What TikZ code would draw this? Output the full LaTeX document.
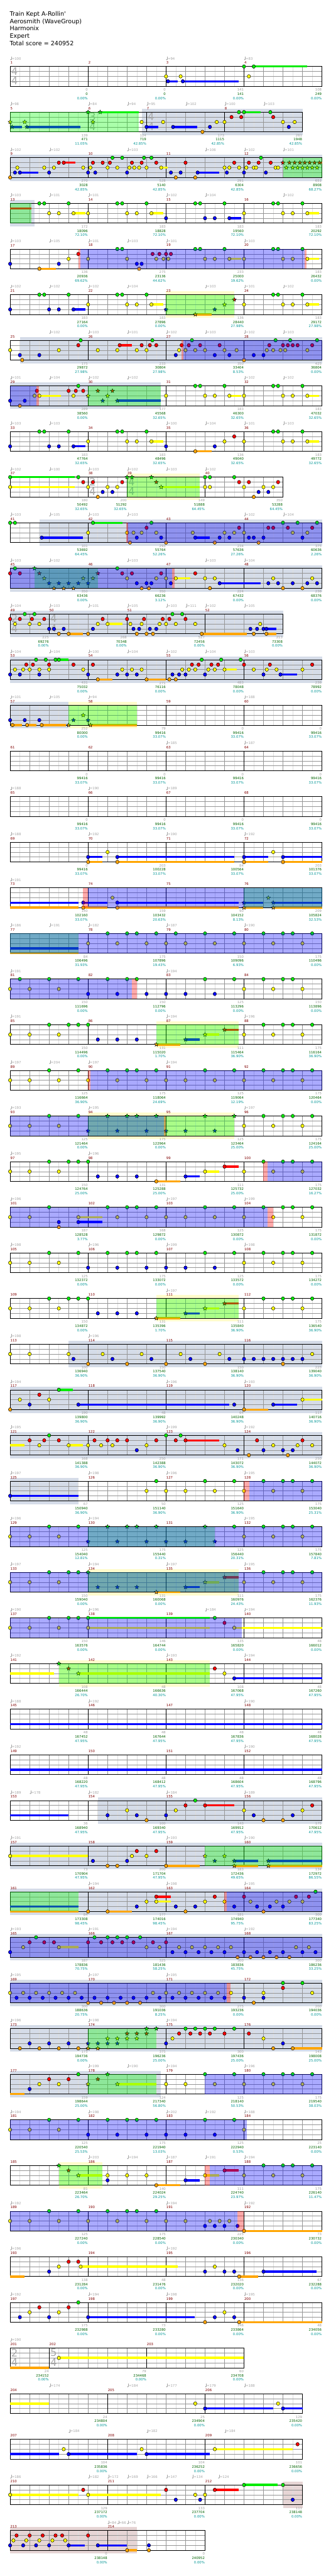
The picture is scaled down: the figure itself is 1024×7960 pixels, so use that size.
\documentclass[tikz,border=0pt]{standalone}
\usepackage{fontspec}
\setmainfont{DejaVu Sans}
\newcounter{tpn}\newcounter{tsn}
\definecolor{c0}{RGB}{0,235,0}
\definecolor{c1}{RGB}{255,0,0}
\definecolor{c2}{RGB}{255,255,0}
\definecolor{c3}{RGB}{0,0,255}
\definecolor{c4}{RGB}{255,165,0}
\definecolor{gridl}{RGB}{222,222,222}
\definecolor{gridd}{RGB}{150,150,150}
\definecolor{solobg}{RGB}{213,220,232}
\definecolor{codabg}{RGB}{230,213,213}
\definecolor{mred}{RGB}{128,0,0}
\definecolor{sgray}{RGB}{160,160,160}
\definecolor{sgreen}{RGB}{0,100,0}
\definecolor{steal}{RGB}{0,150,150}
\definecolor{tgray}{RGB}{165,165,165}
\definecolor{tsgray}{RGB}{170,170,170}
\newcommand\lab{\fontsize{5.2}{6}\selectfont}
\newcommand\ttlf{\fontsize{9.3}{11}\selectfont}
\newcommand\tsf{\fontsize{16}{18}\selectfont}
\tikzset{
  nt/.style={draw=black,line width=0.45pt},
  hl/.style={line width=3.4pt},
  hbl/.style={draw=gridl,line width=0.5pt},
  bl/.style={draw=gridd,line width=0.5pt},
  brd/.style={draw=black,line width=0.7pt},
  barl/.style={draw=black,line width=0.6pt},
  mnum/.style={font=\lab,text=mred,anchor=west,inner sep=0pt},
  scg/.style={font=\lab,text=sgray,anchor=east,inner sep=0pt},
  sct/.style={font=\lab,text=sgreen,anchor=east,inner sep=0pt},
  scp/.style={font=\lab,text=steal,anchor=east,inner sep=0pt},
  tmp/.style={font=\lab,text=tgray,anchor=west,inner sep=0pt},
  tsg/.style={font=\tsf,text=tsgray,anchor=west,inner sep=0pt},
  ttl/.style={font=\ttlf,anchor=base west,inner sep=0pt},
  solo/.style={fill=solobg},
  pyl/.style={fill=yellow,opacity=0.2},
  coda/.style={fill=codabg},
  ovB/.style={fill=blue,opacity=0.333},
  ovG/.style={fill=green,opacity=0.333},
  ovP/.style={fill=red,opacity=0.333}
}
% one row of the chart: \rowy is the top line of the staff
\newcommand\rw[1]{\pgfmathsetmacro\rowy{205.5+141*#1}}
\newcommand\grid[1]{%
  \pgfmathtruncatemacro\nh{2*#1-1}\pgfmathtruncatemacro\nb{#1-1}%
  \foreach \i in {1,3,...,\nh} \draw[hbl] ({31.3+30.15*\i},\rowy) -- ++(0,61);
  \foreach \i in {1,...,\nb} \draw[bl] ({31.3+60.3*\i},\rowy) -- ++(0,61);
  \foreach \l in {1,2,3} \draw[bl] (31.3,{\rowy+15.25*\l}) -- ({31.3+60.3*#1},{\rowy+15.25*\l});
  \draw[brd] (31.3,\rowy) rectangle ({31.3+60.3*#1},{\rowy+61});}
\newcommand\bgr[3]{\fill[#1] ({31.3+60.3*#2},{\rowy-10.3}) rectangle ({31.3+60.3*#3},{\rowy+71.3});}
\newcommand\ovl[3]{\fill[#1] ({31.3+60.3*#2},\rowy) rectangle ({31.3+60.3*#3},{\rowy+61});}
% measure: start beat, length, number, score, total, percent
\newcommand\ms[6]{%
  \ifdim#1pt>0pt\draw[barl] ({31.3+60.3*#1},\rowy) -- ++(0,61);\fi
  \node[mnum] (mnum-#3) at ({32+60.3*#1},{\rowy-11.5}) {#3};
  \node[scg] (msc-#3) at ({30.8+60.3*(#1+#2)},{\rowy+72}) {#4};
  \node[sct] (mtot-#3) at ({30.8+60.3*(#1+#2)},{\rowy+85}) {#5};
  \node[scp] (mpct-#3) at ({30.8+60.3*(#1+#2)},{\rowy+98}) {#6\%};}
\newcommand\four[2]{\foreach \va/\vb/\vc [count=\ci from 0] in {#2}{%
  \pgfmathtruncatemacro\mm{#1+\ci}\pgfmathsetmacro\st{4*\ci}\ms{\st}{4}{\mm}{\va}{\vb}{\vc}}}
\newcommand\hold[2]{\foreach \pa/\pb in {#2}{\draw[hl,draw=c#1] ({31.3+60.3*\pa},{\rowy+15.25*#1}) -- ({31.3+60.3*\pb},{\rowy+15.25*#1});}}
\newcommand\nts[2]{\foreach \bb in {#2}{\filldraw[nt,fill=c#1] ({31.3+60.3*\bb},{\rowy+15.25*#1}) ellipse (5.2 and 5.6);}}
\newcommand\sts[2]{\foreach \bb in {#2}{\filldraw[nt,fill=c#1,shift={({31.3+60.3*\bb},{\rowy+15.25*#1})}]
  plot[samples at={0,...,9},variable=\k] ({(6.5-3.6*mod(\k,2))*cos(90+36*\k)},{-(6.5-3.6*mod(\k,2))*sin(90+36*\k)}) -- cycle;}}
\newcommand\tps[1]{\foreach \bb/\vv in {#1}{%
  \fill[tgray] ({33.5+60.3*\bb},{\rowy-21.5}) ellipse (2.1 and 1.6);
  \draw[tgray,line width=0.5pt] ({35.4+60.3*\bb},{\rowy-21.5}) -- ++(0,-9.5);
  \stepcounter{tpn}\node[tmp] (tempo-\arabic{tpn}) at ({36.2+60.3*\bb},{\rowy-24.5}) {=\vv};}}
\newcommand\tsig[3]{\stepcounter{tsn}%
  \node[tsg] (tsa-\arabic{tsn}) at ({34.5+60.3*#1},{\rowy+14.5}) {#2};
  \node[tsg] (tsb-\arabic{tsn}) at ({34.5+60.3*#1},{\rowy+44.5}) {#3};}
\begin{document}
\begin{tikzpicture}[x=0.5pt,y=-0.5pt]
\useasboundingbox (0,0) rectangle (1024,7960);
\fill[white] (0,0) rectangle (1024,7960);
\node[ttl] (title) at (30,49.3) {Train Kept A-Rollin\textquotesingle};
\node[ttl] (artist) at (30,72) {Aerosmith (WaveGroup)};
\node[ttl] (charter) at (30,95) {Harmonix};
\node[ttl] (level) at (30,118.3) {Expert};
\node[ttl] (total) at (30,141) {Total score = 240952};

% rows 1-4
\rw{0}\grid{16}\tsig{0}{4}{4}
\four{1}{0/0/0.00,0/0/0.00,141/141/0.00,108/249/0.00}
\hold{0}{12.5/15.25}\hold{3}{8.1/8.6,8.86/11.74}
\nts{0}{12,12.5}\nts{2}{8,8.75,12.25}\nts{3}{8.1,8.86}
\tps{0/100,8/94,12/83}

\rw{1}\bgr{solo}{6.75}{15}\grid{15}\tsig{4}{3}{4}\tsig{7}{4}{4}
\ms{0}{4}{5}{139}{471}{11.05}\ms{4}{3}{6}{124}{719}{42.85}\ms{7}{4}{7}{173}{1115}{42.85}\ms{11}{4}{8}{261}{1948}{42.85}
\hold{3}{0.1/0.6,0.86/3.6,7/7.6,8.36/9.6}\hold{0}{4.62/6.6,12/12.85}
\sts{2}{0,0.75,4.25}\sts{3}{0.1,0.86}\sts{0}{4,4.62}
\nts{2}{6.75,7.85,10.6,11,14,14.6}\nts{3}{7,8.36,10.25,14.3}\nts{4}{9.87}\nts{1}{11.36,11.86,13.5}\nts{0}{11.74,12,13.35}
\ovl{ovG}{0}{6.6}
\tps{0/98,4/84,6/94,7/95,9/102,11/100,13/103}

\rw{2}\bgr{solo}{0}{16}\grid{16}
\four{9}{270/3028/42.85,528/5140/42.85,291/6304/42.85,651/8908/68.27}
\hold{3}{0.5/1.45,9.62/10.74}\hold{1}{2.75/3.36,15.87/16}\hold{2}{7.75/8.1}
\nts{4}{0,8.5,9.5}
\nts{3}{0.25,0.5,2,4,4.37,6,8.25,8.75,9.62,11.12,12,13.12}
\nts{2}{0.37,1.75,2.25,3.75,4.12,5,5.5,6.12,6.37,6.62,7,7.75,11,11.25,11.75,12.12,12.5,12.62,13.62,13.75}
\nts{1}{2.5,2.75,4.25,4.75,5.12,6.25,6.75,7.5,9,11.5,12.25,12.75,13.37}
\nts{0}{5.25,5.75,6.87,7.25,12.87}
\sts{1}{14,14.33,14.6,14.87,15.12,15.37,15.62,15.87}\sts{2}{14.17,14.5,14.75,15,15.25,15.5,15.75}
\ovl{ovG}{14}{16}
\tps{0/102,2/102,6/103,10/106,12/102,14/101}

\rw{3}\bgr{solo}{0}{1.24}\grid{16}
\four{13}{172/18096/72.10,183/18828/72.10,183/19560/72.10,183/20292/72.10}
\hold{1}{0/1.1}\hold{2}{3.25/3.86,7.25/7.85,15.25/15.85}\hold{3}{11.25/11.86}
\nts{0}{1.5,1.75,3,5.5,5.75,7,9.5,9.75,11,13.5,13.75,15}
\nts{2}{2,2.5,3.25,4,6,6.5,7.25,12,14,14.5,15.25}
\nts{3}{8,10,10.5,11.25}
\ovl{ovG}{0}{1.1}
\tps{0/103,2/101,4/101,8/102,10/104,14/102}

\rw{4}\grid{16}
\four{17}{136/20936/69.62,275/23136/44.62,233/25000/19.62,183/26432/0.00}
\hold{4}{1.5/2.36}\hold{2}{11.25/11.86,15.25/15.85}
\nts{3}{0,2.5,6.5,6.75}\nts{4}{1.5,6.62}
\nts{2}{3,4,6,7.5,7.87,8.12,10,10.5,11.25,12,14,14.5,15.25}
\nts{1}{3.5,7.31,7.66,8,8.25}
\nts{0}{5.5,5.75,9.5,9.75,11,13.5,13.75,15}
\ovl{ovB}{3.59}{15.11}\ovl{ovP}{3.5}{3.59}\ovl{ovP}{15.11}{15.22}
\tps{0/103,2/105,4/101,6/103,8/101,12/103}

\rw{5}\bgr{pyl}{8}{11.5}\grid{16}
\four{21}{183/27164/0.00,183/27896/0.00,136/28440/27.98,183/29172/27.98}
\hold{3}{3.25/3.86}\hold{2}{7.25/7.85,15.25/15.85}\hold{4}{9.5/10.35}
\nts{3}{0,2,2.5,3.25}\nts{0}{1.5,1.75,3,5.5,5.75,7,13.5,13.75,15}\nts{2}{4,6,6.5,7.25,12,14,14.5,15.25}
\sts{3}{8,10.5}\sts{4}{9.5}\sts{2}{11}\sts{1}{11.5}
\ovl{ovG}{8}{11.5}
\tps{0/102,2/102,4/102,6/104,10/103,12/101,14/102}

\rw{6}\bgr{solo}{0.5}{16}\grid{16}
\four{25}{175/29872/27.98,233/30804/27.98,350/33404/8.53,425/36804/0.00}
\hold{1}{5.62/6.25}
\nts{2}{0,2.5,4.5,5.5,6.5,7,8.67,9,9.5,10,11,11.62,13.17,13.5,13.87,14.12,15.25}
\nts{3}{0.5,1.5,8.5,10.5,11.25,12.5,13}
\nts{4}{0.62,12}
\nts{1}{3.5,5.62,6.75,7.17,7.5,8.8,9.17,9.75,10.75,13.3,14,14.25,14.5,14.75,15.5}
\nts{0}{3.62,7.3,9.33,13.62,14.37,15.75}
\ovl{ovB}{8.88}{16}\ovl{ovP}{8.8}{8.88}
\tps{2/102,4/103,6/101,8/102,10/103,12/102,14/103}

\rw{7}\bgr{solo}{0}{7.74}\grid{16}
\four{29}{289/38560/0.00,177/45568/32.65,183/46300/32.65,183/47032/32.65}
\hold{2}{1.5/2.6,11.25/11.86,15.25/15.85}\hold{3}{5.5/7.74}
\nts{3}{0,0.75}\nts{4}{0.5}\nts{2}{1.25,1.5,3.25,8,10,10.5,11.25,12,14,14.5,15.25}
\nts{1}{1.37,3,3.37,3.75}\nts{0}{3.5,9.5,9.75,11,13.5,13.75,15}
\sts{2}{4,5}\sts{1}{4.5,5.25}\sts{3}{4.75,5.5}
\ovl{ovB}{0}{1.36}\ovl{ovP}{1.36}{1.48}\ovl{ovG}{4}{7.74}
\tps{0/101,2/104,4/102,6/102,12/102,14/102}

\rw{8}\grid{16}
\four{33}{183/47764/32.65,183/48496/32.65,136/49040/32.65,183/49772/32.65}
\hold{3}{3.25/3.86}\hold{2}{7.25/7.85,15.25/15.85}\hold{4}{9.5/10.35}
\nts{3}{0,2,2.5,3.25,8,10.5}\nts{0}{1.5,1.75,3,5.5,5.75,7,13.5,13.75,15}
\nts{2}{4,6,6.5,7.25,11,12,14,14.5,15.25}\nts{4}{9.5}\nts{1}{11.5}
\tps{0/103,2/103,8/100,10/104,12/101,14/103}

\rw{9}\bgr{pyl}{6}{9.74}\grid{14}\tsig{4}{2}{4}\tsig{6}{4}{4}
\ms{0}{4}{37}{180}{50492}{32.65}\ms{4}{2}{38}{200}{51292}{32.65}\ms{6}{4}{39}{149}{51888}{64.45}\ms{10}{4}{40}{350}{53288}{64.45}
\hold{0}{0/3.33}\hold{2}{0/3.33,7.75/9.74}
\nts{0}{0,3.5,10,10.25,11.5}\nts{2}{0,4,5,5.5,10,10.25,12,13,13.5}
\nts{1}{3.75,4.25,5.75,11.75,12.25,13.75}\nts{4}{4.5,12.5}\nts{3}{4.75,5.25,12.75,13.25}
\sts{0}{6,6.25,7.25}\sts{1}{7.5}\sts{2}{7.75}
\ovl{ovG}{6}{9.74}
\tps{0/102,2/100,4/103,6/102,8/103,10/102}

\rw{10}\bgr{solo}{1.5}{16}\grid{16}
\four{41}{101/53692/64.45,293/55764/52.26,234/57636/27.26,375/60636/2.26}
\hold{3}{1.62/3.74,9.5/10.24}\hold{0}{4.25/5.75}
\nts{0}{0,0.25,4.25,7.25,14,14.75,15.75}
\nts{3}{1.62,6.5,7.75,9.5,10.75,11.25,12.25,12.5,13,15}
\nts{2}{4,6,6.33,6.75,7.5,9.37,11,11.5,12,14.5,15.25}
\nts{4}{6.15,8,10.5,12.75}
\nts{1}{7,11.75,13.25,13.5,14.25,15.5}
\ovl{ovB}{6.03}{16}\ovl{ovP}{5.97}{6.05}
\tps{0/103,2/105,4/103,6/103,12/102,14/104}

\rw{11}\bgr{solo}{0}{16}\grid{16}
\four{45}{350/63436/0.00,350/66236/3.12,224/67432/0.00,236/68376/0.00}
\hold{2}{8.5/9.24}\hold{3}{10.75/12.85}
\nts{1}{0,0.5,5.75,6.25,7.75,9.5}\nts{0}{0.25,5.5}
\nts{2}{6,7.5,8,8.5,10,10.5,13.5,15.5}
\nts{3}{6.5,7,7.25,8.25,10.75,13.25,13.75,14.5,15.25,15.75}
\nts{4}{6.75,7.12,10.25,14,15}
\sts{0}{1.25}\sts{1}{1.5,4.5}\sts{2}{1.75,3.75,4.25}\sts{3}{2,2.5,3,3.5,4}\sts{4}{2.25,2.75,3.25}
\ovl{ovG}{1.24}{4.5}\ovl{ovB}{0}{8.3}\ovl{ovP}{8.3}{8.45}
\tps{0/103,2/102,6/103,10/103,12/104}

\rw{12}\bgr{solo}{0}{14}\grid{14}\tsig{0}{2}{4}\tsig{2}{4}{4}
\ms{0}{2}{49}{225}{69276}{0.00}\ms{2}{4}{50}{268}{70348}{0.00}\ms{6}{4}{51}{527}{72456}{0.00}\ms{10}{4}{52}{213}{73308}{0.00}
\hold{4}{3/3.74,9.84/12.15,13.15/13.65}\hold{2}{5/5.75}\hold{3}{13.15/13.65}
\nts{1}{0,0.5,1.12,1.75,4.75,6,6.87,7.83,8.17,9}
\nts{2}{0.25,1,1.5,4.5,5,6.17,6.75,7.67,8,8.5,9.5,12.83}
\nts{0}{0.75,1.25,8.33,8.83}
\nts{3}{2,2.25,2.75,4.25,6.33,6.62,7.17,7.5,12.33,12.67,13,13.15}
\nts{4}{2.5,3,4,6.5,7,7.33,9.83,12.5,13.15}
\tps{0/104,2/103,4/101,6/105,8/103,9/111,10/102,12/105}

\rw{13}\bgr{solo}{0}{16}\grid{16}
\four{53}{431/75032/0.00,271/76116/0.00,483/78048/0.00,236/78992/0.00}
\hold{0}{2.5/3}\hold{4}{4.5/5.25,7/8}\hold{2}{11/11.63}\hold{3}{13.87/14.74}
\nts{3}{0,0.5,1.5,4,5.5,6,6.5,8.33,8.67,9,10,13,13.87}
\nts{2}{0.25,0.67,1,1.5,2,3.75,5.75,6.25,6.75,8.83,9.17,9.5,10.17,10.5,11,12.5,13.17,13.67,15}
\nts{1}{0.83,1.17,2,3.25,4.25,9.33,9.67,10.33,10.67,12,13.33,15.5}
\nts{0}{1.33,1.83,2.33,2.5,9.83,10.83,11.83}
\nts{4}{4.5,7,8.17,8.5}
\tps{0/104,2/104,4/100,6/104,8/102,10/104,12/103}

\rw{14}\bgr{solo}{0}{3}\bgr{pyl}{3}{6.5}\grid{16}
\four{57}{252/80000/0.00,79/99416/33.07,0/99416/33.07,0/99416/33.07}
\hold{4}{0.12/0.6,0.87/1.35,1.62/2.85,4.12/6.5}
\nts{3}{0,0.75,1.5}\nts{4}{0.12,0.87,1.62}
\sts{4}{3,4.12}\sts{3}{3.25,4}\sts{2}{3.75}
\ovl{ovG}{3}{6.5}
\tps{0/101,2/105,4/94,12/188}

\rw{15}\grid{16}
\four{61}{0/99416/33.07,0/99416/33.07,0/99416/33.07,0/99416/33.07}
\tps{8/185,12/187}

\rw{16}\grid{16}
\four{65}{0/99416/33.07,0/99416/33.07,0/99416/33.07,0/99416/33.07}
\tps{0/188,4/190,8/189}

\rw{17}\grid{16}
\four{69}{0/99416/33.07,203/100228/33.07,84/100564/33.07,203/101376/33.07}
\hold{3}{4/4.74,5.5/11.5,12/13.24,14/16}\hold{4}{4/4.74,5.5/11.5,12/13.24,14/16}
\nts{3}{4,5.5,12,14}\nts{4}{4,5.5,12,14}\nts{2}{5,13.5}
\tps{0/188,4/192,8/190,12/192}

\rw{18}\grid{16}
\four{73}{140/102160/33.07,159/103432/20.63,90/104152/8.13,209/105824/32.53}
\hold{3}{0/3.5,3.75/5,5.5/11.74,12/13,13.5/16}\hold{4}{0/3.5,3.75/5,5.5/11.74,12/13,13.5/16}
\nts{3}{3.75,5.5}\nts{4}{3.75,5.5}\nts{2}{5.25}
\sts{3}{12,13.5}\sts{4}{12,13.5}\sts{2}{13.25}
\ovl{ovP}{3.75}{4}\ovl{ovG}{12}{16}\ovl{ovB}{4}{16}
\tps{0/191}

\rw{19}\grid{16}
\four{77}{84/106496/31.93,175/107896/19.43,150/109096/6.93,175/110496/0.00}
\hold{3}{0/3.5}\hold{4}{0/3.5}
\nts{2}{4,5.5,7,8,9,10.5,12,13.5,15}\nts{0}{5,6,6.5,7.5,8.5,10,11.5,13,14,14.5,15.5}
\ovl{ovG}{0}{3.5}\ovl{ovB}{0}{16}
\tps{0/186,2/191,4/182,8/187,12/190}

\rw{20}\grid{16}
\four{81}{150/111696/0.00,150/112796/0.00,125/113296/0.00,150/113896/0.00}
\nts{2}{0,1,2.5,12,13.5,15}\nts{0}{0.5,2,3.5,5,6,6.5,10,11.5,13,14,14.5}\nts{3}{4,5.5,7,8,9,10.5}
\ovl{ovB}{0}{6.25}\ovl{ovP}{6.25}{6.5}
\tps{0/191,8/194}

\rw{21}\bgr{pyl}{7.5}{11.74}\grid{16}
\four{85}{150/114496/0.00,131/115020/1.70,111/115464/36.90,175/116164/36.90}
\hold{4}{7.5/8.73}\hold{3}{9/9.73}\hold{2}{10/10.74}\hold{1}{11/11.74}
\nts{2}{0,1,2.5,12,13.5,15}\nts{0}{2,3,3.5,4,13,14,14.5,15.5}\nts{3}{4.5,5.5,6.5}
\sts{4}{7.5}\sts{3}{9}\sts{2}{10}\sts{1}{11}
\ovl{ovG}{7.5}{11.74}
\tps{0/191,8/194,12/196}

\rw{22}\grid{16}
\four{89}{125/116664/36.90,175/118064/24.69,125/119064/12.19,175/120464/0.00}
\nts{2}{0,1,2.5,4,5.5,7,8,9,10.5,12,13.5,15}\nts{0}{2,3.5,5,6,6.5,7.5,10,11.5,13,14,14.5,15.5}
\ovl{ovP}{4}{4.12}\ovl{ovB}{4.12}{16}
\tps{0/197,2/204,4/197,8/194}

\rw{23}\bgr{pyl}{4}{11.5}\grid{16}
\four{93}{125/121464/0.00,175/122964/0.00,125/123464/25.00,175/124164/25.00}
\nts{2}{0,1,2.5,12,13.5,15}\nts{0}{2,3.5,13,14,14.5,15.5}
\sts{0}{5,6,6.5,7.5,10,11.5}\sts{3}{4,5.5,7,8,9,10.5}
\ovl{ovG}{4}{11.5}\ovl{ovB}{0}{7.9}\ovl{ovP}{7.9}{8}
\tps{0/193,4/195,12/197}

\rw{24}\grid{16}
\four{97}{150/124764/25.00,131/125288/25.00,111/125732/25.00,175/127032/16.27}
\hold{4}{7.5/8.73}\hold{3}{9/9.73}\hold{2}{10/10.74}\hold{1}{11/11.74}
\nts{2}{0,1,2.5,10,12,13.5,15}\nts{0}{2,3,3.5,4,13,14,14.5,15.5}\nts{3}{4.5,5.5,6.5,9}\nts{4}{7.5}\nts{1}{11}
\ovl{ovP}{13}{13.2}\ovl{ovB}{13.2}{16}
\tps{0/195,4/196}

\rw{25}\grid{16}
\four{101}{187/128528/3.77,168/129872/0.00,125/130872/0.00,175/131872/0.00}
\hold{2}{3.5/4.74}\hold{3}{3.5/4.74}
\nts{2}{0,1,3.5,5.5,7,8,9,10.5,12,13.5,15}\nts{0}{2,5,6,6.5,7.5,10,11.5,13,14,14.5,15.5}\nts{3}{2.5,3.5}\nts{4}{2.5}
\ovl{ovB}{0}{13.2}\ovl{ovP}{13.2}{13.5}
\tps{0/196,8/197,12/199}

\rw{26}\grid{16}
\four{105}{125/132372/0.00,175/133072/0.00,125/133572/0.00,175/134272/0.00}
\nts{2}{0,1,2.5,12,13.5,15}\nts{0}{2,3.5,5,6,6.5,7.5,10,11.5,13,14,14.5,15.5}\nts{3}{4,5.5,7,8,9,10.5}
\tps{0/198,4/196,8/199,12/198}

\rw{27}\bgr{pyl}{7.5}{11.74}\grid{16}
\four{109}{150/134872/0.00,131/135396/1.70,111/135840/36.90,175/136540/36.90}
\hold{4}{7.5/8.73}\hold{3}{9/9.73}\hold{2}{10/10.74}\hold{1}{11/11.74}
\nts{2}{0,1,2.5,12,13.5,15}\nts{0}{2,3,3.5,4,13,14,14.5,15.5}\nts{3}{4.5,5.5,6.5}
\sts{4}{7.5}\sts{3}{9}\sts{2}{10}\sts{1}{11}
\ovl{ovG}{7.5}{11.74}
\tps{8/197}

\rw{28}\bgr{solo}{3}{16}\grid{16}
\four{113}{100/136940/36.90,150/137540/36.90,150/138140/36.90,225/139040/36.90}
\nts{2}{0,1,3,4.75,6.75,8.75,10.75,15.5}\nts{3}{3.25,5.25,7.25,9.25,11.25,12,12.5,13,13.5,14,14.5,15}\nts{4}{4,6,8,10,14}
\tps{0/198,4/196}

\rw{29}\bgr{solo}{0}{16}\grid{16}
\four{117}{190/139800/36.90,48/139992/36.90,64/140248/36.90,117/140716/36.90}
\hold{0}{2.5/3.23}\hold{3}{3.5/11.24,13.5/14.74}\hold{4}{12/13.24}\hold{2}{15/16}
\nts{4}{0,12}\nts{2}{0.5,2,15}\nts{3}{1,3.5,11.5,13.5}\nts{1}{1.5}\nts{0}{2.5}
\tps{0/194,8/196,12/193}

\rw{30}\bgr{solo}{0}{16}\grid{16}
\four{121}{168/141388/36.90,250/142388/36.90,171/143072/36.90,250/144072/36.90}
\hold{2}{0/0.73,3/3.73}\hold{1}{9/10.74}
\nts{2}{1.5,3,4,4.67,5.25,7,11,13.5,14.75,15.5}
\nts{1}{1,1.75,2.5,4.33,5,5.5,6,7.5,8.5,9,12.67,15}
\nts{0}{2,8,8.75}\nts{3}{6.5,11.67,13,14,14.5}\nts{4}{12.25,14.25}
\tps{0/195,8/199,12/192}

\rw{31}\bgr{solo}{0}{3.5}\grid{16}
\four{125}{67/150940/36.90,50/151140/36.90,125/151640/36.90,175/153040/25.31}
\hold{3}{0/3.5}
\nts{3}{0}\nts{2}{7,8,9,10.5,12,13.5,15}\nts{0}{7.5,10,11.5,13,14,14.5,15.5}
\ovl{ovP}{12}{12.27}\ovl{ovB}{12.27}{16}
\tps{0/197,4/198,8/196,12/195}

\rw{32}\grid{16}
\four{129}{125/154040/12.81,175/155440/0.31,125/156440/20.31,175/157840/7.81}
\nts{2}{0,1,2.5,12,13.5,15}\nts{0}{2,3.5,11.5,13,14,14.5,15.5}
\sts{3}{4,5.5,7,8,9,10.5}\sts{0}{5,6,6.5,7.5,10}
\ovl{ovG}{4}{10.5}\ovl{ovB}{0}{16}
\tps{0/196,4/194,12/195}

\rw{33}\bgr{pyl}{4}{11.74}\grid{16}
\four{133}{150/159040/0.00,131/160068/0.00,111/160976/24.43,175/162376/11.93}
\hold{4}{7.5/8.73}\hold{3}{9/9.73}\hold{2}{10/10.74}\hold{1}{11/11.74}
\nts{2}{0,1,2.5,12,13.5,15}\nts{0}{2,3,3.5,13,14,14.5,15.5}
\sts{0}{4}\sts{3}{4.5,5.5,6.5,9}\sts{4}{7.5}\sts{2}{10}\sts{1}{11}
\ovl{ovG}{4}{11.74}\ovl{ovB}{0}{16}
\tps{0/197,4/194,8/197,12/195}

\rw{34}\grid{16}
\four{137}{150/163576/0.00,146/164744/0.00,135/165820/0.00,48/166012/0.00}
\hold{0}{4/10.24}\hold{2}{4/10.24,11.5/16}
\nts{2}{0,1,2.5,4,11.5}\nts{0}{2,3,3.5,4,10.5}\nts{1}{11}
\ovl{ovB}{0}{11.9}
\tps{0/190,4/196,10/184,12/194}

\rw{35}\bgr{pyl}{2.5}{10.24}\grid{16}
\four{141}{108/166444/26.70,48/166636/40.30,108/167068/47.95,48/167260/47.95}
\hold{2}{0/2.24,3.5/10.24}\hold{3}{11.5/16}
\nts{1}{10.5}\nts{2}{11}\nts{3}{11.5}
\sts{0}{2.5}\sts{1}{3}\sts{2}{3.5}
\ovl{ovG}{2.5}{10.24}
\tps{0/192,8/193,12/194}

\rw{36}\grid{16}
\four{145}{48/167452/47.95,48/167644/47.95,48/167836/47.95,48/168028/47.95}
\hold{3}{0/16}
\tps{0/188,4/192,12/190}

\rw{37}\grid{16}
\four{149}{48/168220/47.95,48/168412/47.95,48/168604/47.95,48/168796/47.95}
\hold{3}{0/16}
\tps{0/192,12/190}

\rw{38}\bgr{solo}{4.5}{16}\grid{16}
\four{153}{36/168940/47.95,100/169340/47.95,143/169912/47.95,175/170612/47.95}
\hold{3}{0/3}\hold{1}{10/11.5}
\nts{3}{5,6.5,8,12.5,14.5}\nts{2}{6,8.5,12,15}\nts{4}{7,13,14}\nts{1}{9,10,15.5}\nts{0}{9.5}
\tps{0/189,1/178,4/182,8/184,12/189}

\rw{39}\bgr{solo}{0}{16}\grid{16}
\four{157}{73/170904/47.95,200/171704/47.95,183/172436/49.65,134/172972/86.55}
\hold{2}{0/4}\hold{4}{8/9.73,11.5/12.74,13.25/16}\hold{3}{11.5/12.74,13.25/16}
\nts{2}{0,6.25,7}\nts{3}{4.25,6}\nts{4}{5,5.5,8}\nts{1}{6.5,7.5}
\sts{2}{10,11}\sts{3}{10.5,11.5,13.25}\sts{4}{11.5,13.25}
\ovl{ovG}{10}{16}
\tps{0/191,8/193,12/190}

\rw{40}\bgr{solo}{0}{16}\grid{16}
\four{161}{84/173308/98.45,177/174016/98.45,181/174940/95.75,300/177340/83.25}
\hold{3}{0/3.5}\hold{4}{0/3.5,5/6.24}\hold{1}{7.5/8.24}\hold{2}{7.5/8.24}
\nts{4}{4,5,9,13}\nts{3}{6.5,8.5,9.5,11.5,12.67,13.33,14}
\nts{2}{7,7.5,10,11,12.33,13.67,14.33,15}\nts{1}{7.5,10.5,12,14.67,15.33}\nts{0}{15.67}
\ovl{ovG}{0}{3.5}\ovl{ovP}{11}{11.12}\ovl{ovB}{11.12}{16}
\tps{4/194,8/198,12/195}

\rw{41}\bgr{solo}{0}{16}\grid{16}
\four{165}{187/178836/70.75,325/181436/58.25,300/183836/45.75,300/186236/33.25}
\hold{2}{2.5/3.5}
\nts{3}{0,8.33,9,9.67,10.33,11,12,12.67,13.33,14,15,15.67}
\nts{2}{0.67,2.5,7,7.67,8.67,9.33,10,10.67,11.33,14.67,15.33}
\nts{1}{1,1.75,2.25,4,4.67,5.25,5.75,6.33,7.33,8}
\nts{0}{1.33,4.33,5,5.5,6,6.67}
\nts{4}{11.67,12.33,13,13.67,14.33}
\ovl{ovB}{0}{16}
\tps{0/193,4/191,8/194,12/192}

\rw{42}\bgr{solo}{0}{16}\grid{16}
\four{169}{300/188636/20.75,300/191036/8.25,275/193236/0.00,200/194036/0.00}
\nts{2}{0,0.67,1.33,2,2.67,3.33,7.33,8,8.67,9.33,10,10.67,11.33,13,15.5}
\nts{3}{0.33,1,1.67,2.33,3,3.67,4.33,5,5.67,6.33,7,7.67,8.33,9,9.67,10.33,11,12,13}
\nts{4}{4,4.67,5.33,6,6.67,12.5}\nts{1}{14}\nts{0}{14,15}
\ovl{ovB}{0}{11.1}\ovl{ovP}{11.1}{11.3}
\tps{0/195,4/197,8/195}

\rw{43}\bgr{solo}{0}{16}\grid{16}
\four{173}{175/194736/0.00,375/196236/25.00,300/197436/25.00,143/198008/25.00}
\hold{4}{14.5/16}
\nts{4}{0.5,1.5,2.5,3.5,13.5,14.5}\nts{3}{1,2,3,8,14}\nts{2}{8.33,13}
\nts{1}{8.67,9.25,9.75,10.25,11,12.25}\nts{0}{9,9.5,10,10.5,11.5}
\sts{3}{4,4.5,5,5.5}\sts{4}{4,4.5}\sts{2}{5,5.5,6,6.5}\sts{1}{6,6.5,7}\sts{0}{7,7.5}
\ovl{ovG}{4}{7.5}
\tps{0/196,4/198,8/194}

\rw{44}\bgr{solo}{0}{7.74}\grid{16}
\four{177}{159/198644/25.00,124/217340/56.80,125/218140/50.53,175/219540/38.03}
\hold{4}{0/0.73}\hold{2}{5.5/7.5}
\nts{3}{1}\nts{2}{1.5,2.5,8,9,10.5,12,13.5,15}\nts{1}{2,3}\nts{0}{3.5,10,11.5,13,14,14.5,15.5}
\sts{2}{4,5.5}\sts{1}{4.5}\sts{0}{5}
\ovl{ovG}{4}{7.5}\ovl{ovB}{10}{16}
\tps{4/199,6/190,8/194,12/196}

\rw{45}\grid{16}
\four{181}{125/220540/25.53,175/221940/13.03,125/222940/0.53,25/223140/0.00}
\nts{2}{0,1,2.5,12}\nts{0}{2,3.5,5,6,6.5,7.5,10,11.5}\nts{3}{4,5.5,7,8,9,10.5}
\ovl{ovB}{0}{12.15}
\tps{0/194,4/198,8/202,10/192,12/188}

\rw{46}\bgr{pyl}{2.5}{4.75}\grid{16}
\four{185}{81/223464/26.70,140/224024/29.25,111/224740/23.97,175/226140/11.47}
\hold{2}{3.5/4.74,10/10.74}\hold{4}{7.5/8.73}\hold{3}{9/9.73}\hold{1}{11/11.74}
\nts{2}{5,6,7,10,12,13.5,15}\nts{3}{5,9}\nts{4}{7.5}\nts{1}{11}\nts{0}{13,14,14.5,15.5}
\sts{0}{2.5}\sts{1}{3}\sts{2}{3.5}
\ovl{ovG}{2.5}{4.75}\ovl{ovP}{10}{10.25}\ovl{ovB}{10.25}{16}
\tps{4/203,6/194,8/187,10/191,12/194}

\rw{47}\grid{16}
\four{189}{125/227240/0.00,175/228540/0.00,225/230340/0.00,73/230732/0.00}
\hold{4}{12/16}
\nts{2}{0,1,2.5,4,5.5,7,8,9,10.25,10.75,11.25}\nts{0}{2,3.5,5,6,6.5,7.5}\nts{3}{10,10.5,11,11.67}\nts{4}{12}
\ovl{ovB}{0}{11.67}\ovl{ovP}{11.67}{12}
\tps{0/192,8/194,12/192}

\rw{48}\grid{16}
\four{193}{138/231284/0.00,48/231476/0.00,136/232020/0.00,67/232288/0.00}
\hold{4}{0/0.73,11.75/12.74}\hold{2}{3.62/8.6}\hold{3}{13/15.72}
\nts{3}{2,10,11,11.5,13}\nts{2}{2.5,3.62,10.5}\nts{1}{3,3.5}\nts{4}{11.75}
\tps{0/196,8/192}

\rw{49}\grid{16}
\four{197}{175/232988/0.00,73/233280/0.00,146/233864/0.00,48/234056/0.00}
\hold{3}{4/9.48}\hold{4}{11.75/16}
\nts{3}{0.5,2,4,10.5,11.5}\nts{2}{1,2.5,11}\nts{1}{1.5,3}\nts{0}{3.5}\nts{4}{10,11.75}
\tps{0/192,4/194,8/198,12/195}

\rw{50}\grid{12}\tsig{0}{2}{4}\tsig{2}{5}{4}
\ms{0}{2}{201}{24}{234152}{0.00}\ms{2}{5}{202}{79}{234468}{0.00}\ms{7}{5}{203}{60}{234708}{0.00}
\hold{4}{0/2}\hold{2}{2.5/12}
\nts{2}{2.5}
\tps{0/190}

\rw{51}\grid{15}
\ms{0}{5}{204}{24}{234804}{0.00}\ms{5}{5}{205}{25}{234904}{0.00}\ms{10}{5}{206}{129}{235420}{0.00}
\hold{2}{0/2}\hold{3}{10/13.5,14/15}
\nts{2}{9.5,13.75}\nts{3}{10,14}
\tps{2/174,6/184,8/177,10/179,12/188}

\rw{52}\grid{15}
\ms{0}{5}{207}{104}{235836}{0.00}\ms{5}{5}{208}{104}{236252}{0.00}\ms{10}{5}{209}{101}{236656}{0.00}
\hold{3}{0/2.5,3/6.5,7/10.24}\hold{2}{10.5/14.5}
\nts{2}{2.75,6.75,10.5}\nts{3}{3,7}\nts{1}{14.75}
\tps{3/184,7/182,11/184}

\rw{53}\bgr{coda}{14}{15}\grid{15}
\ms{0}{5}{210}{129}{237172}{0.00}\ms{5}{5}{211}{133}{237704}{0.00}\ms{10}{5}{212}{111}{238148}{0.00}
\hold{2}{0/3.5,4/7.74}\hold{1}{10.5/11.74}\hold{0}{12/13.74}
\nts{2}{0,4,9.5,10}\nts{1}{3.75,8,10.5}\nts{3}{8.5,9.75,14.5}\nts{0}{12,14}
\tps{0/186,4/182,5/172,6/169,7/166,8/147,9.33/134,10.67/124}

\rw{54}\bgr{coda}{0}{6.5}\grid{10}
\ms{0}{5}{213}{0}{238148}{0.00}\ms{5}{5}{214}{0}{240952}{0.00}
\hold{3}{3/3.83,4.5/6}\hold{4}{6/6.5}
\nts{3}{0,0.67,1.33,2,3,4.5,7.12}\nts{2}{0.17,0.83,1.5,2.17,2.83}\nts{1}{0.33,1,1.67,2.33,2.67,4}\nts{4}{6,7.12}
\tps{5/84,5.5/66,6/76}
\end{tikzpicture}
\end{document}
